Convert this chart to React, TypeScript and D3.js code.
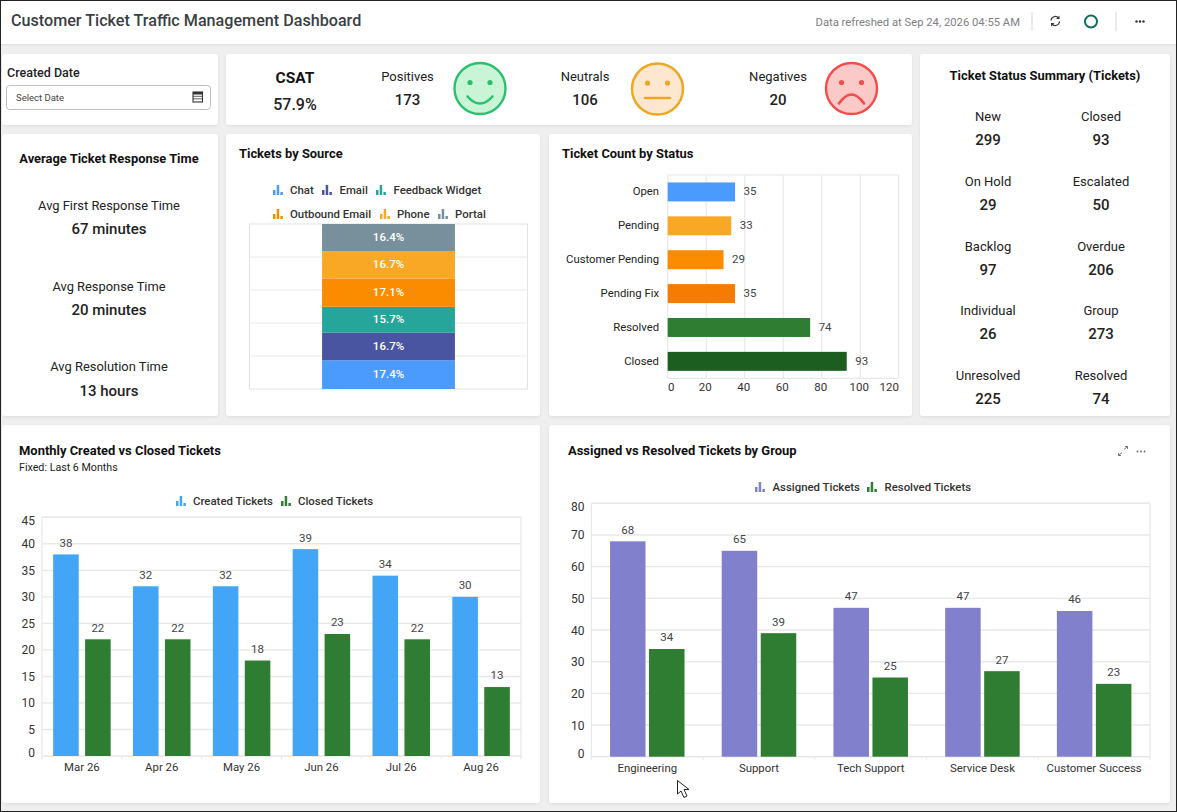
import React, { useRef, useEffect } from 'react';
import * as d3 from 'd3';

type Sel = d3.Selection<any, unknown, null, undefined>;

const FONT = 'Roboto, sans-serif';

const csatKpis = ['Positives', 'Neutrals', 'Negatives'];
const csatValues = ['173', '106', '20'];

const statusSummaryLabels = ['New', 'Closed', 'On Hold', 'Escalated', 'Backlog', 'Overdue', 'Individual', 'Group', 'Unresolved', 'Resolved'];
const statusSummaryValues = ['299', '93', '29', '50', '97', '206', '26', '273', '225', '74'];

const responseLabels = ['Avg First Response Time', 'Avg Response Time', 'Avg Resolution Time'];
const responseValues = ['67 minutes', '20 minutes', '13 hours'];

const sources = ['Chat', 'Email', 'Feedback Widget', 'Outbound Email', 'Phone', 'Portal'];
const sourceShares = [17.4, 16.7, 15.7, 17.1, 16.7, 16.4];
const sourceColors = ['#4b9bff', '#4a55a2', '#26a69a', '#fb8c00', '#f9a825', '#78909c'];

const statuses = ['Open', 'Pending', 'Customer Pending', 'Pending Fix', 'Resolved', 'Closed'];
const statusCounts = [35, 33, 29, 35, 74, 93];
const statusColors = ['#4b9bff', '#f9a825', '#fb8c00', '#f57c00', '#2e7d32', '#1b5e20'];
const statusTicks = [0, 20, 40, 60, 80, 100, 120];

const months = ['Mar 26', 'Apr 26', 'May 26', 'Jun 26', 'Jul 26', 'Aug 26'];
const createdTickets = [38, 32, 32, 39, 34, 30];
const closedTickets = [22, 22, 18, 23, 22, 13];
const monthTicks = [0, 5, 10, 15, 20, 25, 30, 35, 40, 45];

const groups = ['Engineering', 'Support', 'Tech Support', 'Service Desk', 'Customer Success'];
const assignedTickets = [68, 65, 47, 47, 46];
const resolvedTickets = [34, 39, 25, 27, 23];
const groupTicks = [0, 10, 20, 30, 40, 50, 60, 70, 80];

const GRID = '#e8e8e8';

function label(g: Sel, x: number, y: number, str: string, size: number, opts: any = {}) {
  return g.append('text')
    .attr('x', x)
    .attr('y', y)
    .attr('dy', '0.35em')
    .attr('text-anchor', opts.anchor || 'start')
    .attr('font-family', FONT)
    .attr('font-size', size)
    .attr('font-weight', opts.weight || 400)
    .attr('fill', opts.fill || '#222')
    .text(str);
}

function card(g: Sel, x: number, y: number, w: number, h: number) {
  g.append('rect')
    .attr('x', x).attr('y', y).attr('width', w).attr('height', h)
    .attr('rx', 3).attr('fill', '#fff')
    .attr('filter', 'url(#cardShadow)');
}

// the little three bar glyph the legends use
function legendIcon(g: Sel, x: number, y: number, color: string) {
  [[0, 5], [3.7, 10], [7.4, 3]].forEach(([dx, h]) => {
    g.append('rect')
      .attr('x', x + dx).attr('y', y + 5 - h).attr('width', 2.5).attr('height', h)
      .attr('fill', color);
  });
}

function legendItem(g: Sel, iconX: number, textX: number, y: number, name: string, color: string) {
  legendIcon(g, iconX, y, color);
  label(g, textX, y, name, 11.4, { weight: 500, fill: '#333' });
}

function face(g: Sel, cx: number, cy: number, stroke: string, fill: string, mood: number) {
  g.append('circle')
    .attr('cx', cx).attr('cy', cy).attr('r', 25.5)
    .attr('fill', fill).attr('stroke', stroke).attr('stroke-width', 2.4);
  [-10, 10].forEach(dx => {
    g.append('circle')
      .attr('cx', cx + dx).attr('cy', cy - 6).attr('r', 2.6)
      .attr('fill', stroke);
  });
  const mouth = mood > 0
    ? `M${cx - 12.5},${cy + 8} Q${cx},${cy + 22} ${cx + 12.5},${cy + 8}`
    : mood < 0
      ? `M${cx - 12.5},${cy + 15} Q${cx},${cy - 3} ${cx + 12.5},${cy + 15}`
      : `M${cx - 12.5},${cy + 9} L${cx + 12.5},${cy + 9}`;
  g.append('path')
    .attr('d', mouth).attr('fill', 'none')
    .attr('stroke', stroke).attr('stroke-width', 2.6).attr('stroke-linecap', 'round');
}

function drawGroupedBars(
  g: Sel,
  cats: string[],
  names: string[],
  seriesValues: number[][],
  colors: string[],
  ticks: number[],
  box: { left: number; right: number; top: number; bottom: number },
  inner: { gap: number; outer: number },
) {
  const x = d3.scaleBand<string>().domain(cats).range([box.left, box.right]);
  const x1 = d3.scaleBand<string>().domain(names)
    .range([0, x.bandwidth()])
    .paddingInner(inner.gap)
    .paddingOuter(inner.outer);
  const y = d3.scaleLinear()
    .domain([0, d3.max(ticks) as number])
    .range([box.bottom, box.top]);

  // grid
  g.append('g').selectAll('line').data(ticks).join('line')
    .attr('x1', box.left).attr('x2', box.right)
    .attr('y1', d => y(d)).attr('y2', d => y(d))
    .attr('stroke', GRID).attr('stroke-width', 1.4);
  g.append('line')
    .attr('x1', box.left).attr('x2', box.left)
    .attr('y1', box.top).attr('y2', box.bottom + 3)
    .attr('stroke', GRID).attr('stroke-width', 1.2);
  g.append('line')
    .attr('x1', box.right).attr('x2', box.right)
    .attr('y1', box.top).attr('y2', box.bottom + 3)
    .attr('stroke', GRID).attr('stroke-width', 1.2);

  // y axis, first and last label pulled inside the plot like the original
  const yAxis = g.append('g')
    .attr('transform', `translate(${box.left},0)`)
    .call(d3.axisLeft(y).tickValues(ticks).tickSize(0).tickPadding(7));
  yAxis.select('.domain').remove();
  yAxis.selectAll('text')
    .attr('font-family', FONT).attr('font-size', 12).attr('fill', '#333')
    .attr('dy', (d: any) => (d === 0 ? 0.4 : d === ticks[ticks.length - 1] ? 7 : 4));

  // x axis
  const xAxis = g.append('g')
    .attr('transform', `translate(0,${box.bottom})`)
    .call(d3.axisBottom(x).tickSize(0).tickPadding(7));
  xAxis.select('.domain').remove();
  xAxis.selectAll('text')
    .attr('font-family', FONT).attr('font-size', 11.4).attr('fill', '#333');
  g.append('g').selectAll('line').data(cats).join('line')
    .attr('x1', d => x(d) as number).attr('x2', d => x(d) as number)
    .attr('y1', box.bottom).attr('y2', box.bottom + 3)
    .attr('stroke', GRID);

  names.forEach((name, s) => {
    cats.forEach((cat, i) => {
      const bx = (x(cat) as number) + (x1(name) as number);
      const v = seriesValues[s][i];
      g.append('rect')
        .attr('x', bx).attr('y', y(v))
        .attr('width', x1.bandwidth()).attr('height', box.bottom - y(v))
        .attr('fill', colors[s]);
      label(g, bx + x1.bandwidth() / 2, y(v) - 11.6, String(v), 11.5, { anchor: 'middle', fill: '#444' });
    });
  });
}

export default function App() {
  const svgRef = useRef<SVGSVGElement>(null);

  useEffect(() => {
    const svg = d3.select(svgRef.current) as unknown as Sel;
    svg.selectAll('*').remove();

    const defs = svg.append('defs');
    const shadow = defs.append('filter').attr('id', 'cardShadow')
      .attr('x', '-3%').attr('y', '-3%').attr('width', '106%').attr('height', '106%');
    shadow.append('feDropShadow')
      .attr('dx', 0).attr('dy', 1).attr('stdDeviation', 1.5)
      .attr('flood-color', '#000').attr('flood-opacity', 0.08);

    svg.append('rect').attr('width', 1177).attr('height', 812).attr('fill', '#efefef');

    // header
    svg.append('rect').attr('width', 1177).attr('height', 44).attr('fill', '#fff')
      .attr('filter', 'url(#cardShadow)');
    label(svg, 11, 20.5, 'Customer Ticket Traffic Management Dashboard', 16.15, { weight: 500, fill: '#3a3f44' });
    label(svg, 1020, 22, 'Data refreshed at Sep 24, 2026 04:55 AM', 11.25, { anchor: 'end', fill: '#808080' });
    [1032, 1116].forEach(sx => {
      svg.append('line').attr('x1', sx).attr('x2', sx).attr('y1', 12).attr('y2', 31)
        .attr('stroke', '#d5d5d5');
    });
    svg.append('path')
      .attr('d', 'M1051,20.5 A4.4,4.4 0 0 1 1058.5,17.8 M1059.5,21.5 A4.4,4.4 0 0 1 1052,24.2')
      .attr('fill', 'none').attr('stroke', '#333').attr('stroke-width', 1.2);
    svg.append('path').attr('d', 'M1059.5,15.5 L1059.5,19 L1056,19 Z M1051,26.5 L1051,23 L1054.5,23 Z').attr('fill', '#333');
    svg.append('circle').attr('cx', 1091).attr('cy', 21.5).attr('r', 6)
      .attr('fill', 'none').attr('stroke', '#0f6f5c').attr('stroke-width', 2);
    [1136.5, 1140, 1143.5].forEach(cx => {
      svg.append('circle').attr('cx', cx).attr('cy', 21.5).attr('r', 1.2).attr('fill', '#333');
    });

    card(svg, 2, 54, 216, 71);
    card(svg, 226, 54, 686, 71);
    card(svg, 920, 54, 250, 362);
    card(svg, 2, 134, 216, 282);
    card(svg, 226, 134, 314, 282);
    card(svg, 549, 134, 363, 282);
    card(svg, 2, 425, 538, 378);
    card(svg, 549, 425, 621, 378);

    // date filter
    label(svg, 7, 72.5, 'Created Date', 12.5, { weight: 500 });
    svg.append('rect').attr('x', 6.5).attr('y', 85.5).attr('width', 204).attr('height', 24)
      .attr('rx', 3).attr('fill', '#fff').attr('stroke', '#bdbdbd');
    label(svg, 16, 98, 'Select Date', 9.5, { fill: '#444' });
    svg.append('rect').attr('x', 193).attr('y', 92).attr('width', 9.5).attr('height', 10)
      .attr('fill', 'none').attr('stroke', '#333').attr('stroke-width', 1.1);
    svg.append('rect').attr('x', 193).attr('y', 92).attr('width', 9.5).attr('height', 2.5).attr('fill', '#333');
    [96.3, 98.8].forEach(ly => {
      svg.append('line').attr('x1', 193).attr('x2', 202.5).attr('y1', ly).attr('y2', ly)
        .attr('stroke', '#333').attr('stroke-width', 0.8);
    });

    // CSAT strip
    label(svg, 295, 77.5, 'CSAT', 15.5, { anchor: 'middle', weight: 700, fill: '#111' });
    label(svg, 295, 104.5, '57.9%', 16, { anchor: 'middle', weight: 500 });
    const kpiX = [407.5, 585, 778];
    csatKpis.forEach((k, i) => {
      label(svg, kpiX[i], 76.5, k, 13, { anchor: 'middle' });
      label(svg, kpiX[i], 99.5, csatValues[i], 15, { anchor: 'middle', weight: 500 });
    });
    face(svg, 480, 88.5, '#2bc06f', '#c9f5d6', 1);
    face(svg, 657.5, 89, '#eba722', '#fde8cf', 0);
    face(svg, 851.5, 88.5, '#f24c4c', '#fcc9c9', -1);

    // status summary
    label(svg, 1045, 75.5, 'Ticket Status Summary (Tickets)', 12.9, { anchor: 'middle', weight: 700, fill: '#111' });
    const summaryRowY = [116.5, 181.5, 246, 310.5, 375];
    statusSummaryLabels.forEach((name, i) => {
      const sx = i % 2 === 0 ? 988 : 1101;
      const sy = summaryRowY[Math.floor(i / 2)];
      label(svg, sx, sy, name, 13, { anchor: 'middle' });
      label(svg, sx, sy + 23.5, statusSummaryValues[i], 15, { anchor: 'middle', weight: 500 });
    });

    // response time
    label(svg, 109, 158.5, 'Average Ticket Response Time', 12.9, { anchor: 'middle', weight: 700, fill: '#111' });
    responseLabels.forEach((name, i) => {
      const ry = 205.5 + i * 80.7;
      label(svg, 109, ry, name, 12.9, { anchor: 'middle' });
      label(svg, 109, ry + 23.5, responseValues[i], 15, { anchor: 'middle', weight: 500 });
    });

    // tickets by source, one stacked column
    label(svg, 239, 153.5, 'Tickets by Source', 12.9, { weight: 700, fill: '#111' });
    const sourceLegendX = [[273, 290], [322, 339.5], [376, 393.5], [273, 290], [380, 397], [438, 455]];
    sources.forEach((name, i) => {
      legendItem(svg, sourceLegendX[i][0], sourceLegendX[i][1], i < 3 ? 190 : 214, name, sourceColors[i]);
    });
    const srcBox = { left: 249.5, right: 527.5, top: 224, bottom: 389 };
    const srcY = d3.scaleLinear().domain([0, 100]).range([srcBox.bottom, srcBox.top]);
    const srcX = d3.scaleBand<string>().domain(['Tickets'])
      .range([srcBox.left, srcBox.right]).paddingInner(0.522).paddingOuter(0.261);
    svg.append('rect')
      .attr('x', srcBox.left).attr('y', srcBox.top)
      .attr('width', srcBox.right - srcBox.left).attr('height', srcBox.bottom - srcBox.top)
      .attr('fill', 'none').attr('stroke', '#e2e2e2');
    svg.append('g').selectAll('line').data([20, 40, 60, 80]).join('line')
      .attr('x1', srcBox.left).attr('x2', srcBox.right)
      .attr('y1', d => srcY(d)).attr('y2', d => srcY(d))
      .attr('stroke', GRID);
    const row: any = {};
    sources.forEach((name, i) => { row[name] = sourceShares[i]; });
    const stacked = d3.stack<any>().keys(sources)([row]);
    stacked.forEach((layer, i) => {
      const [y0, y1] = layer[0];
      svg.append('rect')
        .attr('x', srcX('Tickets') as number).attr('y', srcY(y1))
        .attr('width', srcX.bandwidth()).attr('height', srcY(y0) - srcY(y1))
        .attr('fill', sourceColors[i]);
      label(svg, (srcX('Tickets') as number) + srcX.bandwidth() / 2, (srcY(y0) + srcY(y1)) / 2 - 0.5, `${sourceShares[i]}%`, 11.5, {
        anchor: 'middle', weight: 500, fill: '#fff',
      });
    });

    // ticket count by status
    label(svg, 562, 153.5, 'Ticket Count by Status', 12.9, { weight: 700, fill: '#111' });
    const cntBox = { left: 667.7, right: 898.7, top: 175, bottom: 378.3 };
    const cntX = d3.scaleLinear().domain([0, 120]).range([cntBox.left, cntBox.right]);
    const cntY = d3.scaleBand<string>().domain(statuses)
      .range([cntBox.top, cntBox.bottom]).paddingInner(0.44).paddingOuter(0.22);
    svg.append('g').selectAll('line').data(statusTicks).join('line')
      .attr('x1', d => cntX(d)).attr('x2', d => cntX(d))
      .attr('y1', cntBox.top).attr('y2', cntBox.bottom)
      .attr('stroke', GRID).attr('stroke-width', 1.2);
    [cntBox.top, cntBox.bottom].forEach(ly => {
      svg.append('line').attr('x1', cntBox.left).attr('x2', cntBox.right)
        .attr('y1', ly).attr('y2', ly).attr('stroke', GRID).attr('stroke-width', 1.2);
    });
    const cntAxis = svg.append('g')
      .attr('transform', `translate(0,${cntBox.bottom})`)
      .call(d3.axisBottom(cntX).tickValues(statusTicks).tickSize(0).tickPadding(5));
    cntAxis.select('.domain').remove();
    cntAxis.selectAll('text')
      .attr('font-family', FONT).attr('font-size', 11.5).attr('fill', '#333')
      .attr('dx', (d: any) => (d === 0 ? 3 : d === 120 ? -10 : -1.5));
    statuses.forEach((name, i) => {
      const by = cntY(name) as number;
      const mid = by + cntY.bandwidth() / 2;
      svg.append('rect')
        .attr('x', cntBox.left).attr('y', by)
        .attr('width', cntX(statusCounts[i]) - cntBox.left).attr('height', cntY.bandwidth())
        .attr('fill', statusColors[i]);
      label(svg, 659, mid - 0.5, name, 11.3, { anchor: 'end' });
      label(svg, cntX(statusCounts[i]) + 8.5, mid - 0.5, String(statusCounts[i]), 11.5, { fill: '#444' });
    });

    // monthly created vs closed
    label(svg, 19, 450.5, 'Monthly Created vs Closed Tickets', 12.95, { weight: 700, fill: '#111' });
    label(svg, 19, 467, 'Fixed: Last 6 Months', 10.7);
    legendItem(svg, 176, 193, 501, 'Created Tickets', '#42a5f5');
    legendItem(svg, 281, 298, 501, 'Closed Tickets', '#2e7d32');
    drawGroupedBars(
      svg, months, ['Created Tickets', 'Closed Tickets'], [createdTickets, closedTickets],
      ['#42a5f5', '#2e7d32'], monthTicks,
      { left: 42, right: 521, top: 517.3, bottom: 756 },
      { gap: 0.2, outer: 0.35 },
    );

    // assigned vs resolved
    label(svg, 568, 450.5, 'Assigned vs Resolved Tickets by Group', 12.95, { weight: 700, fill: '#111' });
    legendItem(svg, 755, 772.5, 487, 'Assigned Tickets', '#8080cc');
    legendItem(svg, 867, 884.5, 487, 'Resolved Tickets', '#2e7d32');
    drawGroupedBars(
      svg, groups, ['Assigned Tickets', 'Resolved Tickets'], [assignedTickets, resolvedTickets],
      ['#8080cc', '#2e7d32'], groupTicks,
      { left: 591.4, right: 1150, top: 503.3, bottom: 756.7 },
      { gap: 0.09, outer: 0.477 },
    );
    svg.append('path')
      .attr('d', 'M1124,449.5 L1127.5,446.5 M1125,446.5 L1127.5,446.5 L1127.5,449 M1122,452.5 L1118.5,455.5 M1121,455.5 L1118.5,455.5 L1118.5,453')
      .attr('fill', 'none').attr('stroke', '#666').attr('stroke-width', 0.9);
    [1137.5, 1141, 1144.5].forEach(cx => {
      svg.append('circle').attr('cx', cx).attr('cy', 451.5).attr('r', 0.9).attr('fill', '#666');
    });

    // mouse pointer caught in the screenshot
    svg.append('path')
      .attr('d', 'M677.5,780.5 L677.5,794 L681,791 L684,797.5 L687,796 L684,789.5 L689,789.5 Z')
      .attr('fill', '#fff').attr('stroke', '#222').attr('stroke-width', 1);

    // window edge
    svg.append('rect').attr('x', 0.5).attr('y', 0.5).attr('width', 1176).attr('height', 811)
      .attr('fill', 'none').attr('stroke', '#222');
  }, []);

  return (
    <svg
      ref={svgRef}
      width={1177}
      height={812}
      style={{ position: 'fixed', left: 0, top: 0, display: 'block' }}
    />
  );
}
